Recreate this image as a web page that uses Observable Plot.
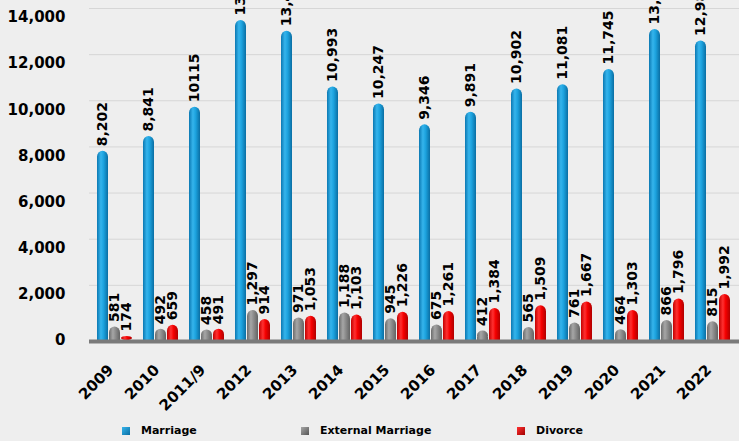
<!DOCTYPE html>
<html><head><meta charset="utf-8">
<script src="https://cdn.jsdelivr.net/npm/d3@7"></script>
<script src="https://cdn.jsdelivr.net/npm/@observablehq/plot@0.6"></script>
<style>
html,body{margin:0;padding:0;background:#eeeeee;}
#wrap{position:relative;width:739px;height:441px;overflow:hidden;font-family:"DejaVu Sans",sans-serif;background:#eeeeee;}
#wrap svg{display:block;}
.leg{position:absolute;top:423px;height:15px;font-size:11px;font-weight:bold;display:flex;align-items:center;color:#000;white-space:nowrap;}
.sw{width:8px;height:8px;margin-right:11px;}
</style></head><body><div id="wrap"></div>
<script>
const years = ["2009","2010","2011/9","2012","2013","2014","2015","2016","2017","2018","2019","2020","2021","2022"];
const marriage = [8202, 8841, 10115, 13875, 13400, 10993, 10247, 9346, 9891, 10902, 11081, 11745, 13480, 12980];
const marriageLabels = ["8,202","8,841","10115","13,875","13,400","10,993","10,247","9,346","9,891","10,902","11,081","11,745","13,480","12,980"];
const external = [581, 492, 458, 1297, 971, 1188, 945, 675, 412, 565, 761, 464, 866, 815];
const divorce = [174, 659, 491, 914, 1053, 1103, 1226, 1261, 1384, 1509, 1667, 1303, 1796, 1992];
const yTicks = [0, 2000, 4000, 6000, 8000, 10000, 12000, 14000];
const seriesNames = ["Marriage", "External Marriage", "Divorce"];

const fmt = d3.format(",");
const data = years.map((year, i) => ({year, marriage: marriage[i], external: external[i], divorce: divorce[i], mLabel: marriageLabels[i]}));

function bars(field, insetLeft, insetRight, fill) {
  return [
    Plot.barY(data, {x: "year", y: field, insetLeft, insetRight, rx: 6, fill}),
    Plot.barY(data, {x: "year", y: field, insetLeft, insetRight, insetTop: 6, fill})
  ];
}
function labels(field, dx, textFn) {
  return Plot.text(data, {x: "year", y: field, text: textFn, rotate: -90, textAnchor: "start", dx, dy: -5, fontSize: 14, fontWeight: "bold", fill: "#000"});
}

const plot = Plot.plot({
  width: 739, height: 425,
  marginLeft: 89, marginRight: 0, marginTop: 17, marginBottom: 85,
  style: {background: "transparent", fontFamily: "DejaVu Sans", color: "#000", overflow: "hidden"},
  x: {domain: years, paddingInner: 0.23, paddingOuter: 0.05, label: null},
  y: {domain: [0, 14000], label: null},
  marks: [
    Plot.ruleY(yTicks.slice(1), {dy: -9, stroke: "#d6d6d6", strokeWidth: 1}),
    ...bars("marriage", 0, 24, "url(#gBlue)"),
    ...bars("external", 12, 12, "url(#gGrey)"),
    ...bars("divorce", 24, 0, "url(#gRed)"),
    Plot.ruleY([0], {stroke: "#7a7a7a", strokeWidth: 4, dy: 1}),
    labels("marriage", -12, "mLabel"),
    labels("external", 0, d => fmt(d.external)),
    labels("divorce", 12, d => fmt(d.divorce)),
    Plot.axisY({ticks: yTicks, tickFormat: d3.format(","), tickSize: 0, tickPadding: 24, fontSize: 15, fontWeight: "bold", label: null}),
    Plot.axisX({tickRotate: -45, tickSize: 0, tickPadding: 27, dx: -4, fontSize: 15, fontWeight: "bold", label: null})
  ]
});

const defs = d3.select(plot).insert("defs", ":first-child");
function grad(id, stops) {
  const g = defs.append("linearGradient").attr("id", id).attr("x1", 0).attr("x2", 1).attr("y1", 0).attr("y2", 0);
  stops.forEach(([o, c]) => g.append("stop").attr("offset", o).attr("stop-color", c));
}
grad("gBlue", [[0, "#0b78b2"], [0.35, "#35b4ec"], [0.6, "#1ca2de"], [1, "#0a6ea3"]]);
grad("gGrey", [[0, "#6c6c6c"], [0.35, "#a6a6a6"], [0.6, "#8c8c8c"], [1, "#636363"]]);
grad("gRed", [[0, "#c40000"], [0.35, "#ff3030"], [0.6, "#f40000"], [1, "#b00000"]]);

const wrap = document.getElementById("wrap");
wrap.appendChild(plot);

const legendItems = [
  {name: seriesNames[0], left: 122, bg: "linear-gradient(135deg,#35b4ec,#0a6ea3)"},
  {name: seriesNames[1], left: 301, bg: "linear-gradient(135deg,#a6a6a6,#555)"},
  {name: seriesNames[2], left: 517, bg: "linear-gradient(135deg,#ff3030,#a00000)"}
];
for (const it of legendItems) {
  const d = document.createElement("div");
  d.className = "leg";
  d.style.left = it.left + "px";
  const s = document.createElement("span");
  s.className = "sw";
  s.style.background = it.bg;
  d.appendChild(s);
  d.appendChild(document.createTextNode(it.name));
  wrap.appendChild(d);
}
</script></body></html>
